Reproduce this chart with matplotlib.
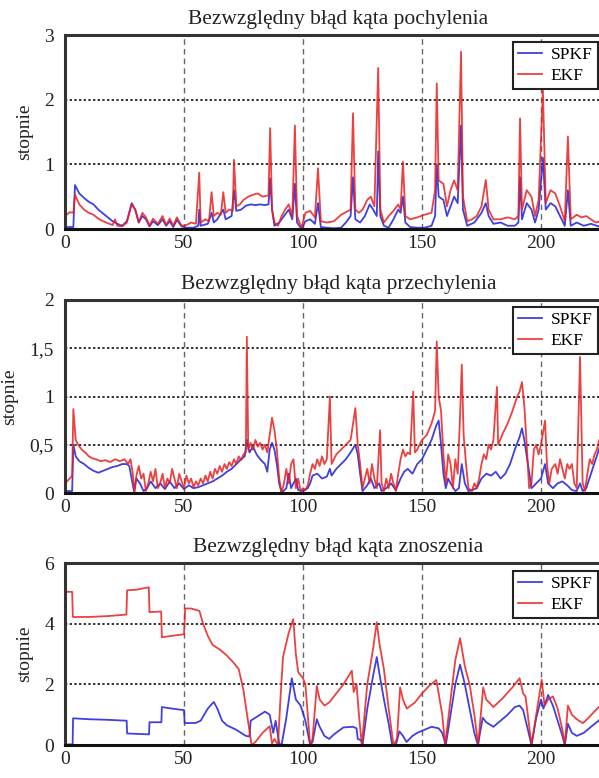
import numpy as np
import matplotlib
matplotlib.use("Agg")
import matplotlib.pyplot as plt

plt.rcParams['font.family'] = ['Liberation Serif', 'DejaVu Serif']

titles = ["Bezwzględny błąd kąta pochylenia",
          "Bezwzględny błąd kąta przechylenia",
          "Bezwzględny błąd kąta znoszenia"]
ylabel = "stopnie"
xticks = [0, 50, 100, 150, 200]
yticks_list = [[0, 1, 2, 3], [0, 0.5, 1, 1.5, 2], [0, 2, 4, 6]]
ytick_labels_list = [["0", "1", "2", "3"], ["0", "0,5", "1", "1,5", "2"], ["0", "2", "4", "6"]]
ylims = [3, 2, 6]

# pochylenie (pitch)
pitch_spkf_x = [0, 3.5, 4.2, 6, 8, 10, 12, 14, 16, 18, 20, 22, 24, 26, 28, 29.5, 31, 32.5, 34, 35.5, 37, 39, 41, 42.5, 44, 45.5, 47, 49, 51, 54, 56, 56.4, 57, 60, 61.6, 62.5, 64, 66.5, 67.5, 70, 71, 72, 74, 76, 78, 80, 82, 84, 85.5, 86.2, 87, 88, 90, 92, 94, 95.5, 96.6, 97.5, 99.4, 101, 103, 105, 106.3, 107.5, 110, 113, 116, 118, 120, 121, 122, 124, 126, 128, 129.5, 131, 131.6, 132.5, 134, 136, 138, 140, 141, 142, 143, 145, 148, 151, 154, 155.5, 156.2, 157, 159, 160.5, 162, 163.5, 165, 166.4, 167.2, 169, 172, 175, 176.8, 178, 180, 183, 186, 189, 190.5, 191.2, 192, 194, 196, 197.5, 199, 200.8, 202, 204, 206, 208, 210, 211.3, 212.5, 215, 218, 221, 225, 229]
pitch_spkf_y = [0.03, 0.03, 0.68, 0.55, 0.48, 0.42, 0.38, 0.3, 0.24, 0.18, 0.12, 0.08, 0.05, 0.12, 0.4, 0.3, 0.1, 0.2, 0.15, 0.04, 0.12, 0.06, 0.15, 0.05, 0.12, 0.03, 0.14, 0.04, 0.02, 0.02, 0.05, 0.3, 0.05, 0.08, 0.25, 0.1, 0.15, 0.3, 0.15, 0.2, 0.6, 0.28, 0.3, 0.36, 0.38, 0.37, 0.38, 0.37, 0.38, 0.78, 0.3, 0.05, 0.1, 0.2, 0.3, 0.15, 0.7, 0.1, 0.0, 0.12, 0.15, 0.08, 0.4, 0.03, 0.02, 0.01, 0.02, 0.1, 0.2, 0.8, 0.15, 0.1, 0.2, 0.38, 0.3, 0.2, 1.2, 0.2, 0.05, 0.02, 0.15, 0.3, 0.25, 0.5, 0.1, 0.03, 0.02, 0.02, 0.05, 0.2, 1.0, 0.5, 0.45, 0.2, 0.35, 0.5, 0.4, 1.6, 0.3, 0.05, 0.1, 0.25, 0.4, 0.2, 0.08, 0.1, 0.05, 0.05, 0.1, 0.8, 0.15, 0.4, 0.3, 0.1, 0.3, 1.1, 0.3, 0.4, 0.35, 0.2, 0.05, 0.6, 0.05, 0.1, 0.05, 0.08, 0.03, 0.03]
pitch_ekf_x = [0, 2, 3.5, 4.2, 6, 8, 10, 12, 14, 16, 18, 20, 21, 22, 24, 26, 28, 29.5, 31, 32.5, 34, 35.5, 37, 39, 41, 42.5, 44, 45.5, 47, 49, 51, 53, 55, 56.4, 57, 59, 60.5, 61.6, 62.5, 64, 65.5, 66.5, 67.5, 69, 70.5, 71, 72, 73.5, 75, 77, 79, 81, 83, 85.5, 86.2, 87, 88, 89.5, 91, 92.5, 94, 95.5, 96.6, 97.5, 99.4, 101, 103, 105, 106.3, 107.5, 110, 113, 116, 118, 120, 121, 122, 123.5, 125, 127, 128.5, 130, 131.6, 132.5, 134, 136, 138, 140, 141, 142, 143, 145, 148, 151, 154, 155.5, 156.2, 157, 159, 160.5, 162, 163.5, 165, 166.4, 167.2, 169, 171, 173, 175, 176.8, 178, 180, 183, 186, 189, 190.5, 191.2, 192, 194, 196, 197.5, 199, 200.8, 202, 204, 206, 208, 210, 211.3, 212.5, 215, 217, 219, 221, 223, 225, 229]
pitch_ekf_y = [0.2, 0.26, 0.25, 0.53, 0.38, 0.3, 0.25, 0.22, 0.16, 0.12, 0.09, 0.06, 0.15, 0.05, 0.04, 0.1, 0.38, 0.3, 0.1, 0.25, 0.18, 0.05, 0.16, 0.08, 0.2, 0.06, 0.16, 0.05, 0.18, 0.05, 0.06, 0.1, 0.08, 0.87, 0.1, 0.15, 0.12, 0.57, 0.2, 0.25, 0.22, 0.57, 0.25, 0.3, 0.28, 1.07, 0.35, 0.38, 0.45, 0.5, 0.53, 0.55, 0.5, 0.52, 1.56, 0.3, 0.1, 0.05, 0.2, 0.3, 0.38, 0.2, 1.6, 0.2, 0.02, 0.25, 0.28, 0.18, 0.94, 0.12, 0.1, 0.12, 0.22, 0.26, 0.3, 1.79, 0.3, 0.25, 0.3, 0.45, 0.5, 0.35, 2.49, 0.3, 0.1, 0.2, 0.28, 0.38, 0.3, 1.04, 0.2, 0.15, 0.18, 0.22, 0.25, 0.6, 2.25, 0.75, 0.7, 0.35, 0.6, 0.75, 0.6, 2.74, 0.5, 0.12, 0.15, 0.2, 0.35, 0.76, 0.3, 0.15, 0.15, 0.18, 0.15, 0.2, 1.71, 0.3, 0.6, 0.5, 0.2, 0.45, 2.15, 0.4, 0.6, 0.55, 0.35, 0.12, 1.43, 0.15, 0.22, 0.18, 0.2, 0.15, 0.1, 0.12, 0.1]

# przechylenie (roll)
roll_spkf_x = [0, 3, 3.5, 4.5, 6, 8, 10, 12, 14, 16, 18, 20, 22, 24, 26, 27, 28, 29, 30, 31.5, 33, 34.5, 36, 38, 40, 42, 44, 46, 48, 50, 52, 54, 56, 58, 60, 62, 64, 66, 68, 70, 72, 74, 75.5, 76.4, 77.5, 79, 80.5, 82, 84, 85, 86, 87, 88, 89, 90, 91, 93, 94, 95, 97, 98, 100, 102, 103, 104, 106, 108, 110, 111.3, 112, 114, 116, 118, 120, 122, 123, 124, 125, 127, 128.5, 130, 132, 133, 135, 137, 139, 141, 142.5, 144, 146, 147, 148, 150, 152, 154, 156, 157, 158, 159, 160, 161, 162, 164, 165.5, 166.7, 168, 169.5, 171, 173, 175, 177, 179, 181, 183, 185, 187, 189, 191, 192, 193, 194.5, 196, 198, 200, 201.7, 203, 205, 207, 209, 211, 213, 215, 216.4, 217.5, 219, 221, 223, 225, 229]
roll_spkf_y = [0.02, 0.02, 0.5, 0.38, 0.33, 0.3, 0.26, 0.23, 0.21, 0.23, 0.25, 0.27, 0.28, 0.3, 0.3, 0.28, 0.15, 0.02, 0.15, 0.1, 0.02, 0.05, 0.12, 0.05, 0.1, 0.04, 0.12, 0.05, 0.1, 0.04, 0.08, 0.05, 0.06, 0.08, 0.1, 0.12, 0.15, 0.18, 0.22, 0.25, 0.3, 0.35, 0.38, 0.55, 0.42, 0.48, 0.4, 0.35, 0.3, 0.22, 0.45, 0.52, 0.45, 0.3, 0.1, 0.0, 0.05, 0.2, 0.05, 0.15, 0.03, 0.02, 0.05, 0.1, 0.18, 0.2, 0.15, 0.17, 0.25, 0.18, 0.25, 0.3, 0.35, 0.42, 0.5, 0.4, 0.2, 0.02, 0.08, 0.15, 0.05, 0.1, 0.02, 0.05, 0.1, 0.03, 0.15, 0.22, 0.25, 0.2, 0.25, 0.3, 0.35, 0.45, 0.55, 0.7, 0.75, 0.5, 0.2, 0.05, 0.15, 0.1, 0.02, 0.05, 0.3, 0.1, 0.02, 0.03, 0.05, 0.15, 0.2, 0.18, 0.22, 0.15, 0.2, 0.3, 0.45, 0.58, 0.67, 0.55, 0.3, 0.05, 0.1, 0.15, 0.3, 0.1, 0.05, 0.1, 0.12, 0.08, 0.03, 0.02, 0.1, 0.02, 0.05, 0.2, 0.35, 0.5, 0.55]
roll_ekf_x = [0, 2, 3, 3.5, 4.5, 5.5, 7, 8.5, 10, 11.5, 13, 15, 17, 19, 21, 23, 25, 26.5, 27.5, 28.5, 29.2, 30, 31, 32, 33, 34, 35, 36, 37, 38, 39, 40, 41, 42, 43, 44, 45, 46, 47, 48, 49, 50, 51, 52, 53, 54, 55, 56, 57, 58, 59, 60, 61, 62, 63, 64, 65, 66, 67, 68, 69, 70, 71, 72, 73, 74, 75, 76, 76.4, 77, 78, 79, 80, 81, 82, 83, 84, 85, 86, 87, 88, 89, 90, 91, 92, 93, 94, 95, 96, 97, 98, 99, 100, 101, 102, 103, 104, 105, 106, 107, 108, 109, 110, 111.3, 112, 113, 114, 116, 118, 120, 122, 123, 124, 125, 126, 127, 128, 129, 130, 131, 132.4, 133, 134, 135, 136, 137, 138, 139, 140, 141, 142, 143, 144, 145, 146.3, 147, 148, 150, 152, 154, 155.5, 156.2, 157, 158, 159, 160, 161, 162, 163, 164, 165, 166, 166.7, 167.5, 168.5, 169.5, 171, 172, 173, 174, 175, 176, 177, 178, 179, 180, 181.5, 182, 184, 186, 188, 190, 191, 192, 193, 194, 195, 196, 197, 198, 199, 200, 201.7, 202.5, 203.5, 204.5, 206, 207, 208, 209, 210, 211, 212, 213, 214, 215, 216.4, 217.5, 218.5, 219.5, 220.5, 221.5, 222.5, 223.5, 224.5, 226, 229]
roll_ekf_y = [0.1, 0.15, 0.18, 0.87, 0.55, 0.5, 0.45, 0.42, 0.38, 0.36, 0.35, 0.33, 0.34, 0.32, 0.35, 0.33, 0.35, 0.3, 0.35, 0.2, 0.0, 0.18, 0.28, 0.15, 0.2, 0.02, 0.1, 0.22, 0.12, 0.25, 0.05, 0.1, 0.2, 0.05, 0.15, 0.1, 0.25, 0.15, 0.05, 0.2, 0.12, 0.05, 0.18, 0.1, 0.15, 0.06, 0.12, 0.08, 0.15, 0.1, 0.18, 0.12, 0.22, 0.15, 0.25, 0.2, 0.28, 0.22, 0.3, 0.25, 0.32, 0.28, 0.35, 0.3, 0.38, 0.34, 0.4, 0.42, 1.62, 0.45, 0.52, 0.45, 0.55, 0.48, 0.52, 0.45, 0.5, 0.42, 0.6, 0.78, 0.65, 0.45, 0.15, 0.0, 0.1, 0.25, 0.1, 0.3, 0.35, 0.05, 0.15, 0.02, 0.05, 0.03, 0.08, 0.2, 0.3, 0.25, 0.35, 0.28, 0.38, 0.3, 0.35, 1.0, 0.3, 0.35, 0.4, 0.45, 0.5, 0.55, 0.88, 0.5, 0.3, 0.05, 0.15, 0.25, 0.1, 0.3, 0.15, 0.05, 0.65, 0.1, 0.02, 0.15, 0.05, 0.2, 0.1, 0.02, 0.2, 0.35, 0.45, 0.38, 0.42, 0.4, 1.05, 0.42, 0.45, 0.55, 0.6, 0.72, 0.85, 1.57, 1.0, 0.85, 0.4, 0.1, 0.4, 0.3, 0.05, 0.35, 0.2, 0.8, 1.33, 0.6, 0.3, 0.05, 0.02, 0.1, 0.05, 0.15, 0.3, 0.4, 0.35, 0.5, 0.45, 0.55, 1.1, 0.5, 0.62, 0.72, 0.85, 1.0, 1.05, 1.15, 0.9, 0.5, 0.05, 0.1, 0.45, 0.5, 0.4, 0.5, 0.75, 0.3, 0.1, 0.25, 0.3, 0.2, 0.35, 0.25, 0.15, 0.3, 0.25, 0.3, 0.1, 0.05, 1.41, 0.1, 0.02, 0.2, 0.35, 0.3, 0.4, 0.45, 0.55, 0.6, 0.65]

# znoszenie (yaw)
yaw_spkf_x = [0, 3.2, 3.4, 10, 18, 25.9, 26.1, 35.3, 35.5, 40.5, 40.7, 45, 50, 50.3, 55, 57, 60, 62.5, 64, 66, 68, 72, 76, 77.5, 78, 81, 84, 86, 87.5, 88.5, 90, 91, 93, 95.3, 97, 99, 101, 103, 104, 105.8, 107, 109, 111, 113, 117, 121, 122.5, 123, 124.5, 125, 127, 129.5, 131, 132, 134, 136, 137.5, 139, 140.5, 142, 143.5, 146, 148, 151, 154, 157, 158.5, 160, 162, 164, 166, 168, 170, 172, 173.5, 175.5, 177, 180, 183, 186, 189, 191, 192.5, 194.5, 196, 198, 200, 201, 203, 205, 207, 209, 210, 211.3, 213, 215, 218, 221, 225, 229]
yaw_spkf_y = [0.02, 0.02, 0.88, 0.85, 0.83, 0.8, 0.38, 0.35, 0.75, 0.75, 1.25, 1.2, 1.15, 0.72, 0.73, 0.8, 1.2, 1.42, 1.2, 0.8, 0.65, 0.5, 0.3, 0.28, 0.8, 0.95, 1.1, 1.0, 0.4, 0.8, 0.05, 0.0, 0.9, 2.2, 1.5, 1.3, 0.8, 0.0, 0.1, 0.85, 0.6, 0.3, 0.2, 0.35, 0.58, 0.6, 0.55, 0.2, 0.15, 0.0, 1.2, 2.3, 2.9, 2.4, 1.5, 0.7, 0.0, 0.0, 0.45, 0.3, 0.1, 0.3, 0.4, 0.5, 0.6, 0.55, 0.4, 0.0, 1.0, 2.0, 2.65, 2.0, 1.2, 0.4, 0.0, 0.9, 0.75, 0.6, 0.8, 1.0, 1.25, 1.3, 1.15, 0.5, 0.0, 0.9, 1.5, 1.2, 1.65, 1.3, 0.8, 0.3, 0.0, 0.7, 0.4, 0.3, 0.4, 0.6, 0.85, 0.95]
yaw_ekf_x = [0, 3.0, 3.3, 10, 18, 25.8, 26.1, 30, 35.2, 35.5, 40.4, 40.7, 45, 50, 50.5, 53, 56.5, 58, 60, 62, 65, 68, 71, 73, 75, 76.5, 78.4, 80, 83, 86, 87, 88, 89.5, 90.5, 91.6, 94, 95.9, 97, 98, 100, 101, 102, 103, 104, 105.8, 107, 109, 111, 114, 117, 120.5, 121.3, 122.5, 123.5, 124.7, 127, 129.5, 131, 132, 134, 136, 138, 139.5, 140.8, 142, 143.6, 147, 150, 153, 156, 157, 158.5, 159.7, 162, 164, 166, 168, 170, 172, 173.6, 175.7, 177, 180, 184, 188, 191, 192.5, 193.5, 196, 198, 200.3, 201.5, 203, 205, 207, 209, 210, 211.3, 213, 215, 217.6, 220, 223, 225, 229]
yaw_ekf_y = [5.05, 5.05, 4.22, 4.22, 4.25, 4.3, 5.1, 5.12, 5.2, 4.38, 4.4, 3.55, 3.6, 3.65, 4.5, 4.5, 4.42, 4.0, 3.6, 3.3, 3.15, 2.95, 2.7, 2.5, 1.8, 1.0, 0.0, 0.1, 0.4, 0.62, 0.05, 0.2, 0.0, 1.5, 2.9, 3.7, 4.15, 3.0, 2.4, 2.2, 2.0, 1.0, 0.0, 0.2, 1.95, 1.5, 1.3, 1.4, 1.7, 2.0, 2.45, 1.75, 2.0, 1.0, 0.0, 2.0, 3.2, 4.05, 3.4, 2.5, 1.2, 0.0, 0.2, 1.9, 1.5, 1.2, 1.4, 1.7, 1.95, 2.14, 1.7, 1.0, 0.0, 1.5, 2.8, 3.52, 2.6, 2.0, 1.0, 0.0, 1.9, 1.5, 1.25, 1.55, 1.9, 2.2, 1.7, 1.6, 0.0, 1.0, 2.15, 1.3, 1.5, 1.6, 1.2, 0.5, 0.0, 1.3, 1.0, 0.85, 0.72, 0.9, 1.15, 1.3, 1.45]

series = [
    (pitch_spkf_x, pitch_spkf_y, pitch_ekf_x, pitch_ekf_y),
    (roll_spkf_x, roll_spkf_y, roll_ekf_x, roll_ekf_y),
    (yaw_spkf_x, yaw_spkf_y, yaw_ekf_x, yaw_ekf_y),
]

W, H = 599, 778
fig = plt.figure(figsize=(W / 100, H / 100), dpi=100)

# axes boxes in pixels: (top, bottom)
boxes = [(35, 229), (300, 493), (563, 745)]
left_px = 65
right_px = 612
xmax = (right_px - left_px) / 2.38
legend_tops = [42, 307, 571]

for i, ((top, bot), title) in enumerate(zip(boxes, titles)):
    ax = fig.add_axes([left_px / W, 1 - bot / H, (right_px - left_px) / W, (bot - top) / H])
    sx, sy, ex, ey = series[i]
    ax.plot(sx, sy, color='#2b2bdc', lw=1.3, alpha=0.9, label='SPKF')
    ax.plot(ex, ey, color='#e82020', lw=1.3, alpha=0.85, label='EKF')
    ax.set_xlim(0, xmax)
    ax.set_ylim(0, ylims[i])
    ax.set_xticks(xticks)
    ax.set_yticks(yticks_list[i])
    ax.set_yticklabels(ytick_labels_list[i])
    ax.tick_params(length=0, labelsize=14, colors='#222')
    ax.tick_params(axis='y', pad=8)
    ax.tick_params(axis='x', pad=4)
    for y in yticks_list[i][1:-1]:
        ax.axhline(y, color='#333', lw=1.4, ls=(0, (1.2, 1.2)), zorder=0)
    for x in xticks[1:]:
        ax.axvline(x, color='#666', lw=1.0, ls=(0, (4, 3)), zorder=0)
    for s in ax.spines.values():
        s.set_linewidth(2.2)
        s.set_color('#333')
    ax.spines['bottom'].set_color('#111')
    ax.set_title(title, fontsize=15.5, pad=8, color='#222')
    ax.set_ylabel(ylabel, fontsize=14, color='#222', labelpad=8)
    leg = ax.legend(loc='upper right', bbox_to_anchor=(598 / W, 1 - legend_tops[i] / H),
                    bbox_transform=fig.transFigure, fancybox=False, framealpha=1,
                    edgecolor='#222', fontsize=12.5, handlelength=1.4, handletextpad=0.5,
                    borderpad=0.3, labelspacing=0.25, borderaxespad=0)
    leg.get_frame().set_linewidth(1.5)

fig.savefig('out.png', dpi=100)
